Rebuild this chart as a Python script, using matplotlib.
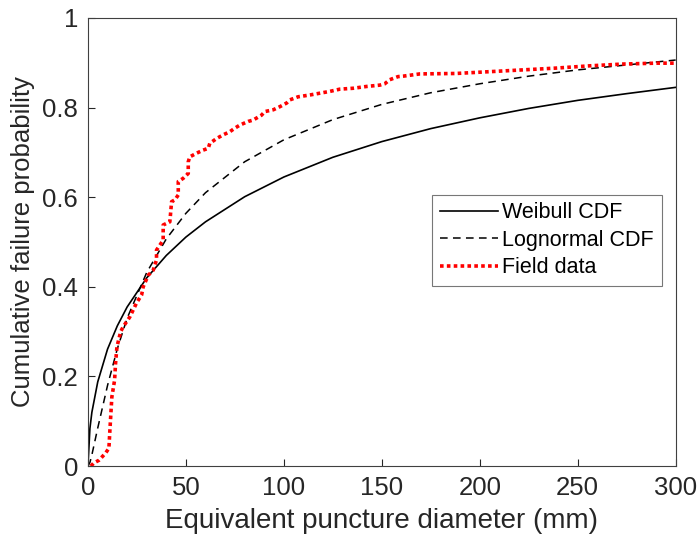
import matplotlib
matplotlib.use("Agg")
import matplotlib.pyplot as plt

plt.rcParams['font.family'] = ['Liberation Sans', 'DejaVu Sans']

# Fitted CDF curves
x_fit = [0, 1, 2, 5, 10, 15, 20, 30, 40, 50, 60, 80, 100, 125, 150, 175, 200, 225, 250, 275, 300]
weibull_cdf = [0.0, 0.084, 0.120, 0.188, 0.261, 0.313, 0.355, 0.420, 0.470, 0.511, 0.545, 0.601,
               0.645, 0.689, 0.724, 0.753, 0.777, 0.798, 0.816, 0.831, 0.845]
lognormal_cdf = [0.0, 0.008, 0.025, 0.085, 0.180, 0.262, 0.330, 0.432, 0.507, 0.564, 0.610, 0.679,
                 0.728, 0.773, 0.807, 0.833, 0.853, 0.870, 0.884, 0.895, 0.906]

# Empirical CDF of field data
field_x = [1.5, 3, 5.6, 9, 10.7, 11.2, 12.2, 13.6, 14.1, 14.8, 16.7, 18, 21.4, 24.8, 27.4, 28.2,
           30.8, 33.3, 35, 35, 38.4, 38.4, 41.8, 42.7, 44.4, 46.1, 46.1, 48.6, 51.2, 51.2, 52,
           55.4, 58.8, 61.4, 62.2, 65.7, 69, 72.4, 75, 77.6, 81.8, 84.3, 88.6, 90.3, 94.6, 98,
           101.4, 103, 107.3, 113.3, 118.4, 123.5, 128.6, 135.4, 142.2, 149, 151.5, 154, 158.3,
           160.9, 169.4, 188, 205, 222, 239, 256, 273, 290, 300]
field_y = [0.0, 0.007, 0.013, 0.029, 0.04, 0.08, 0.154, 0.192, 0.23, 0.266, 0.30, 0.311, 0.333,
           0.364, 0.382, 0.40, 0.426, 0.437, 0.46, 0.482, 0.504, 0.538, 0.545, 0.59, 0.594, 0.605,
           0.635, 0.642, 0.653, 0.679, 0.690, 0.698, 0.705, 0.709, 0.72, 0.731, 0.739, 0.746,
           0.754, 0.761, 0.769, 0.772, 0.783, 0.791, 0.795, 0.802, 0.81, 0.817, 0.824, 0.828,
           0.832, 0.836, 0.841, 0.843, 0.847, 0.85, 0.853, 0.862, 0.869, 0.87, 0.875, 0.876,
           0.88, 0.884, 0.888, 0.893, 0.897, 0.899, 0.899]

fig = plt.figure(figsize=(6.98, 5.42), dpi=100)
ax = fig.add_axes([0.126, 0.140, 0.842, 0.827])

ax.plot(x_fit, weibull_cdf, color='black', lw=1.2, label='Weibull CDF')
ax.plot(x_fit, lognormal_cdf, color='black', lw=1.1, ls=(0, (5, 3.5)), label='Lognormal CDF')
ax.plot(field_x, field_y, color='red', lw=2.6, ls=(0, (1, 0.9)), dash_capstyle='butt',
        label='Field data')

ax.set_xlim(0, 300)
ax.set_ylim(0, 1)
ax.set_xticks([0, 50, 100, 150, 200, 250, 300])
ax.set_yticks([0, 0.2, 0.4, 0.6, 0.8, 1])
ax.set_yticklabels(['0', '0.2', '0.4', '0.6', '0.8', '1'])
ax.tick_params(direction='in', length=5, width=0.8, labelsize=18.5, colors='#262626', pad=7)
for s in ax.spines.values():
    s.set_color('#404040')
    s.set_linewidth(0.8)

ax.set_xlabel('Equivalent puncture diameter (mm)', fontsize=20, color='#262626', labelpad=6)
ax.set_ylabel('Cumulative failure probability', fontsize=18.5, color='#262626', labelpad=5)

leg = ax.legend(loc='upper right', bbox_to_anchor=(0.976, 0.605), fontsize=15.5, fancybox=False,
                handlelength=2.7, handletextpad=0.2, borderpad=0.35, labelspacing=0.3,
                borderaxespad=0)
leg.get_frame().set_edgecolor('#555555')
leg.get_frame().set_linewidth(0.8)

fig.savefig('out.png', dpi=100)
